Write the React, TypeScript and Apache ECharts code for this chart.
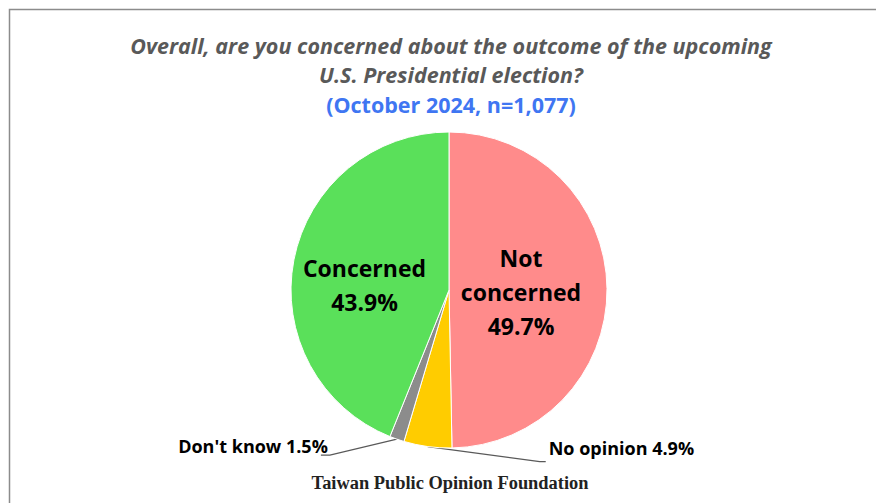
import React, { useEffect, useRef } from "react";
import * as echarts from "echarts";

const categories = ["Not concerned", "No opinion", "Don't know", "Concerned"];
const labelTexts = ["Not\nconcerned", "No opinion", "Don't know", "Concerned"];
const values = [49.7, 4.9, 1.5, 43.9];
const colors = ["#FF8B8B", "#FFCC00", "#8C8C8C", "#5AE05A"];
const insideLabel = [true, false, false, true];

const titleLines = [
  "Overall, are you concerned about the outcome of the upcoming",
  "U.S. Presidential election?",
];
const subtitleText = "(October 2024, n=1,077)";
const footerText = "Taiwan Public Opinion Foundation";

export default function App() {
  const ref = useRef<HTMLDivElement>(null);
  useEffect(() => {
    if (!ref.current) return;
    const chart = echarts.init(ref.current, null, { renderer: "svg" });
    const sans = "'Open Sans', Lato, sans-serif";
    const insideOffsets: Record<number, number[]> = { 0: [-10, 3], 3: [-4, 11] };
    chart.setOption({
      animation: false,
      backgroundColor: "#ffffff",
      title: [
        {
          text: titleLines.join("\n"),
          left: 451,
          textAlign: "center",
          top: 31,
          padding: 0,
          textStyle: {
            fontFamily: sans,
            fontStyle: "italic",
            fontWeight: "bold",
            fontSize: 21.5,
            lineHeight: 29,
            color: "#595959",
          },
        },
        {
          text: subtitleText,
          left: 451,
          textAlign: "center",
          top: 90,
          padding: 0,
          textStyle: {
            fontFamily: sans,
            fontWeight: "bold",
            fontSize: 21.5,
            lineHeight: 29,
            color: "#3F76F2",
          },
        },
        {
          text: footerText,
          left: 450,
          textAlign: "center",
          top: 473,
          padding: 0,
          textStyle: {
            fontFamily: "'Liberation Serif', 'DejaVu Serif', serif",
            fontWeight: "bold",
            fontSize: 18.4,
            lineHeight: 20,
            color: "#222222",
          },
        },
      ],
      graphic: [
        {
          type: "rect",
          shape: { x: 9.5, y: 9.5, width: 900, height: 600 },
          style: { fill: "none", stroke: "#8C8C8C", lineWidth: 1.5 },
          silent: true,
        },
      ],
      series: [
        {
          type: "pie",
          center: [449, 290],
          radius: 158,
          startAngle: 90,
          clockwise: true,
          silent: true,
          avoidLabelOverlap: false,
          itemStyle: { borderColor: "#ffffff", borderWidth: 1 },
          emphasis: { disabled: true },
          labelLine: { lineStyle: { color: "#595959", width: 1.2 } },
          data: categories.map((name, i) => ({
            name,
            value: values[i],
            itemStyle: { color: colors[i] },
            label: insideLabel[i]
              ? {
                  show: true,
                  position: "inside",
                  formatter: `${labelTexts[i]}\n${values[i]}%`,
                  fontFamily: sans,
                  fontWeight: "bold",
                  fontSize: 23,
                  lineHeight: 34,
                  color: "#000000",
                  align: "center",
                  offset: insideOffsets[i],
                }
              : {
                  show: true,
                  position: "outside",
                  formatter: `${labelTexts[i]} ${values[i]}%`,
                  fontFamily: sans,
                  fontWeight: "bold",
                  fontSize: 18,
                  color: "#000000",
                },
            labelLine: { show: !insideLabel[i] },
          })),
          labelLayout: (params: any) => {
            const pts = params.labelLinePoints;
            if (!pts || !pts.length) return {};
            const p0 = pts[0];
            if (params.dataIndex === 2) {
              const p1 = [p0[0] - 67, p0[1] + 16];
              const p2 = [p0[0] - 76, p0[1] + 16];
              return {
                x: p1[0] - 2,
                y: p0[1] + 7,
                align: "right",
                verticalAlign: "middle",
                labelLinePoints: [p0, p1, p2],
              };
            }
            if (params.dataIndex === 1) {
              const p1 = [p0[0] + 112, p0[1] + 15];
              const p2 = [p0[0] + 118, p0[1] + 15];
              return {
                x: p2[0] + 3,
                y: p0[1] + 1,
                align: "left",
                verticalAlign: "middle",
                labelLinePoints: [p0, p1, p2],
              };
            }
            return {};
          },
        },
      ],
    });
    return () => chart.dispose();
  }, []);
  return (
    <div
      ref={ref}
      style={{ position: "fixed", left: 0, top: 0, width: 876, height: 503 }}
    />
  );
}
